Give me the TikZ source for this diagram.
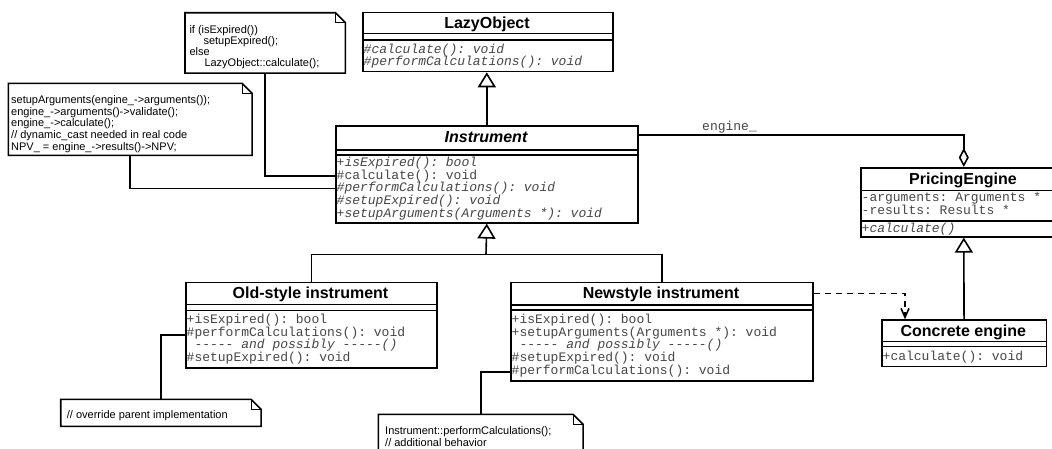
\documentclass[tikz,border=0pt]{standalone}
\usepackage{fontspec}
\setmainfont{Liberation Sans}
\setmonofont{Liberation Mono}
\usetikzlibrary{arrows.meta}
\definecolor{optext}{RGB}{70,70,70}
\newcommand\firststrut{\rule{0pt}{12pt}}
\newcommand\notestrut{\rule{0pt}{10pt}}
\begin{document}
\begin{tikzpicture}[x=1pt,y=-1pt,
  boxline/.style={line width=1.6pt},
  classbox/.style={draw, line width=1.6pt, fill=white, anchor=north west, inner sep=0pt},
  notebox/.style={anchor=north west, inner sep=0pt},
  ctitle/.style={font={\fontsize{16}{18}\selectfont\bfseries}, anchor=base, inner sep=0pt},
  ops/.style={font={\ttfamily\fontsize{13}{12.6}\selectfont\lineskiplimit=-100pt}, text=optext, align=left, anchor=north west, inner sep=0pt},
  notetext/.style={font={\fontsize{11}{#1}\selectfont\lineskiplimit=-100pt}, align=left, anchor=north west, inner sep=0pt},
  notetext/.default=11.6,
  conn/.style={line width=1.6pt},
  inherit/.style={conn, -{Triangle[open, length=15pt, width=18pt]}},
  aggr/.style={conn, -{Diamond[open, length=19pt, width=10pt]}},
  dep/.style={conn, dash pattern=on 6pt off 5pt, -{Straight Barb[length=9pt, width=8pt]}},
]
\useasboundingbox (0,0) rectangle (1052,448);
\clip (0,0) rectangle (1052,448);
\fill[white] (0,0) rectangle (1052,448);

% ---------- classes ----------
\node[classbox, minimum width=250pt, minimum height=59pt] (lazy) at (362,11.7) {};
\draw[boxline] (362,33.3) -- (612,33.3) (362,40) -- (612,40);
\node[ctitle] (lazyT) at (487,28.3) {LazyObject};
\node[ops] (lazyO) at (363.5,41) {\firststrut\itshape\#calculate(): void\\ \itshape\#performCalculations(): void};

\node[classbox, minimum width=302pt, minimum height=97pt] (inst) at (335,125) {};
\draw[boxline] (335,150) -- (637,150) (335,155) -- (637,155);
\node[ctitle] (instT) at (486,142.5) {\itshape Instrument};
\node[ops] (instO) at (336.5,154.5) {\firststrut\itshape +isExpired(): bool\\ \#calculate(): void\\ \itshape\#performCalculations(): void\\ \itshape\#setupExpired(): void\\ \itshape +setupArguments(Arguments *): void};

\node[classbox, minimum width=251pt, minimum height=85.3pt] (old) at (185,281.7) {};
\draw[boxline] (185,304.5) -- (436,304.5) (185,310.5) -- (436,310.5);
\node[ctitle] (oldT) at (310.5,298.5) {Old-style instrument};
\node[ops] (oldO) at (186.5,311.5) {\firststrut +isExpired(): bool\\ \#performCalculations(): void\\ \hspace*{7.8pt}\itshape ----- and possibly -----()\\ \#setupExpired(): void};

\node[classbox, minimum width=302pt, minimum height=98.3pt] (new) at (510,281.7) {};
\draw[boxline] (510,305) -- (812,305) (510,310) -- (812,310);
\node[ctitle] (newT) at (661,298.5) {Newstyle instrument};
\node[ops] (newO) at (511.5,311.5) {\firststrut +isExpired(): bool\\ +setupArguments(Arguments *): void\\ \hspace*{7.8pt}\itshape ----- and possibly -----()\\ \#setupExpired(): void\\ \#performCalculations(): void};

\node[classbox, minimum width=206pt, minimum height=69pt] (pe) at (860,167) {};
\draw[boxline] (860,190.5) -- (1066,190.5) (860,220.7) -- (1066,220.7);
\node[ctitle] (peT) at (963,184) {PricingEngine};
\node[ops] (peA) at (861.5,189.5) {\firststrut -arguments: Arguments *\\ -results: Results *};
\node[ops] (peO) at (861.5,220.5) {\firststrut\itshape +calculate()};

\node[classbox, minimum width=164.5pt, minimum height=46.2pt] (conc) at (881,319.3) {};
\draw[boxline] (881,341.5) -- (1045.5,341.5) (881,346.5) -- (1045.5,346.5);
\node[ctitle] (concT) at (963.25,336) {Concrete engine};
\node[ops] (concO) at (882.5,348) {\firststrut +calculate(): void};

% ---------- notes ----------
\node[notebox, minimum width=160pt, minimum height=60pt] (n1) at (185,12.7) {};
\node[notebox, minimum width=243.4pt, minimum height=71.7pt] (n2) at (8.3,83.3) {};
\node[notebox, minimum width=200pt, minimum height=26.7pt] (n3) at (60.7,399.3) {};
\node[notebox, minimum width=204.4pt, minimum height=50pt] (n4) at (378.3,414.3) {};
\foreach \nn in {n1,n2,n3,n4}{
  \draw[boxline, fill=white] (\nn.north west) -- ([xshift=-10pt]\nn.north east) -- ([yshift=-10pt]\nn.north east) -- (\nn.south east) -- (\nn.south west) -- cycle;
  \draw[line width=1pt] ([xshift=-10pt]\nn.north east) |- ([yshift=-10pt]\nn.north east);
}
\node[notetext=11] (n1t) at (189.3,22.8) {\notestrut if (isExpired())\\ \hspace*{14pt}setupExpired();\\ else\\ \hspace*{15pt}LazyObject::calculate();};
\node[notetext] (n2t) at (11,93.5) {\notestrut setupArguments(engine\_->arguments());\\ engine\_->arguments()->validate();\\ engine\_->calculate();\\ // dynamic\_cast needed in real code\\ NPV\_ = engine\_->results()->NPV;};
\node[notetext] (n3t) at (66.7,408.5) {\notestrut // override parent implementation};
\node[notetext] (n4t) at (385,424.2) {\notestrut Instrument::performCalculations();\\ // additional behavior};

% ---------- connectors ----------
\draw[inherit] (inst.north) -- (inst.north |- lazy.south);
\coordinate (jn) at (486,254.5);
\draw[inherit] (jn) -- (inst.south);
\draw[conn] (old.north) |- (jn);
\draw[conn] (new.north) |- (jn);
\draw[inherit] (conc.north) -- (pe.south);
\draw[aggr] ([yshift=-10pt]inst.north east) -| (pe.north);
\node[font={\ttfamily\fontsize{13}{13}\selectfont}, text=optext, anchor=base, inner sep=0pt] (lbl) at (729.5,130.5) {engine\_};
\draw[dep] ([yshift=-11.6pt]new.north east) -| ([xshift=24pt]conc.north west);

\draw[conn] (n1.south) |- ([yshift=-50.7pt]inst.north west);
\draw[conn] (n2.south) |- ([yshift=-63.3pt]inst.north west);
\draw[conn] (n3.north) |- ([yshift=-53.3pt]old.north west);
\draw[conn] (n4.north) |- ([yshift=-90pt]new.north west);
\end{tikzpicture}
\end{document}
